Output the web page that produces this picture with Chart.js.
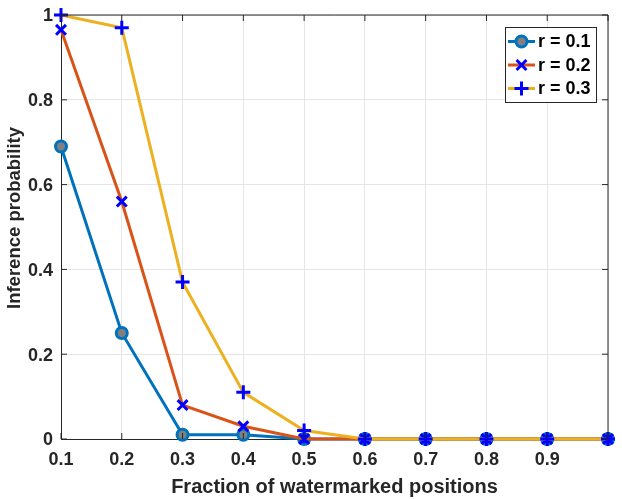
<!DOCTYPE html>
<html>
<head>
<meta charset="utf-8">
<script src="https://cdn.jsdelivr.net/npm/chart.js@4"></script>
<style>
  html, body { margin: 0; padding: 0; background: #fff; }
  #wrap { width: 622px; height: 499px; }
</style>
</head>
<body>
<div id="wrap"><canvas id="chart" width="622" height="499"></canvas></div>
<script>
// data
const xValues = [0.1, 0.2, 0.3, 0.4, 0.5, 0.6, 0.7, 0.8, 0.9, 1.0];
const probR01 = [0.69, 0.25, 0.01, 0.01, 0, 0, 0, 0, 0, 0];
const probR02 = [0.965, 0.56, 0.08, 0.03, 0, 0, 0, 0, 0, 0];
const probR03 = [1.0, 0.97, 0.37, 0.11, 0.02, 0, 0, 0, 0, 0];
const seriesNames = ['r = 0.1', 'r = 0.2', 'r = 0.3'];
const xTickLabels = ['0.1', '0.2', '0.3', '0.4', '0.5', '0.6', '0.7', '0.8', '0.9', ''];
const yTickValues = [0, 0.2, 0.4, 0.6, 0.8, 1];
const yTickLabels = ['0', '0.2', '0.4', '0.6', '0.8', '1'];
const xTitle = 'Fraction of watermarked positions';
const yTitle = 'Inference probability';

const FONT = "'Liberation Sans', Arial, Helvetica, sans-serif";
const AXIS = '#262626';

function toPoints(ys) {
    return xValues.map((x, i) => ({ x: x, y: ys[i] }));
}

// box + inward tick marks, like matlab axes; y label drawn here too
const boxTicks = {
    id: 'boxTicks',
    afterDatasetsDraw(chart) {
        const { ctx, chartArea: a, scales } = chart;
        ctx.save();
        ctx.strokeStyle = AXIS;
        ctx.lineWidth = 1;
        ctx.beginPath();
        ctx.moveTo(a.left, a.top);
        ctx.lineTo(a.right, a.top);
        ctx.lineTo(a.right, a.bottom);
        const len = 6;
        xValues.forEach(v => {
            const px = scales.x.getPixelForValue(v);
            ctx.moveTo(px, a.bottom);
            ctx.lineTo(px, a.bottom - len);
            ctx.moveTo(px, a.top);
            ctx.lineTo(px, a.top + len);
        });
        yTickValues.forEach(v => {
            const py = scales.y.getPixelForValue(v);
            ctx.moveTo(a.left, py);
            ctx.lineTo(a.left + len, py);
            ctx.moveTo(a.right, py);
            ctx.lineTo(a.right - len, py);
        });
        ctx.stroke();

        // y axis title (sits a bit above the axis centre in the original)
        ctx.translate(14.5, (a.top + a.bottom) / 2 - 9);
        ctx.rotate(-Math.PI / 2);
        ctx.fillStyle = AXIS;
        ctx.font = 'bold 18.5px ' + FONT;
        ctx.textAlign = 'center';
        ctx.textBaseline = 'middle';
        ctx.fillText(yTitle, 0, 0);
        ctx.restore();
    }
};

function drawMarker(ctx, style, x, y, r, fill, stroke) {
    ctx.beginPath();
    if (style === 'circle') {
        ctx.arc(x, y, r, 0, Math.PI * 2);
        ctx.fillStyle = fill;
        ctx.fill();
    } else if (style === 'cross') {
        ctx.moveTo(x - r, y);
        ctx.lineTo(x + r, y);
        ctx.moveTo(x, y - r);
        ctx.lineTo(x, y + r);
    } else {
        const d = r * Math.SQRT1_2;
        ctx.moveTo(x - d, y - d);
        ctx.lineTo(x + d, y + d);
        ctx.moveTo(x - d, y + d);
        ctx.lineTo(x + d, y - d);
    }
    ctx.strokeStyle = stroke;
    ctx.lineWidth = 3;
    ctx.stroke();
}

// legend box with line + marker samples
const boxLegend = {
    id: 'boxLegend',
    afterDraw(chart) {
        const { ctx, chartArea: a } = chart;
        const w = 91, h = 75;
        const x0 = a.right - 12 - w;
        const y0 = a.top + 12;
        ctx.save();
        ctx.fillStyle = '#fff';
        ctx.fillRect(x0, y0, w, h);
        ctx.strokeStyle = AXIS;
        ctx.lineWidth = 1;
        ctx.strokeRect(x0 + 0.5, y0 + 0.5, w, h);
        const rows = [14.5, 38, 61.5];
        chart.data.datasets.forEach((ds, i) => {
            const cy = y0 + rows[i];
            ctx.beginPath();
            ctx.moveTo(x0 + 3, cy);
            ctx.lineTo(x0 + 30, cy);
            ctx.strokeStyle = ds.borderColor;
            ctx.lineWidth = 3;
            ctx.stroke();
            const fill = ds.pointStyle === 'circle' ? '#808080' : ds.pointBorderColor;
            drawMarker(ctx, ds.pointStyle, x0 + 16.5, cy, ds.pointRadius, fill, ds.pointBorderColor);
            ctx.fillStyle = '#000';
            ctx.font = 'bold 18px ' + FONT;
            ctx.textBaseline = 'middle';
            ctx.fillText(ds.label, x0 + 33, cy + 1);
        });
        ctx.restore();
    }
};

const ctx = document.getElementById('chart').getContext('2d');
new Chart(ctx, {
    type: 'line',
    data: {
        datasets: [{
            label: seriesNames[0],
            data: toPoints(probR01),
            borderColor: '#0072BD',
            borderWidth: 3,
            pointStyle: 'circle',
            pointRadius: 5.5,
            pointBorderWidth: 3,
            pointBorderColor: '#0072BD',
            pointBackgroundColor: c => (c.raw && c.raw.y === 0 ? '#0000FF' : '#808080'),
            order: 3
        }, {
            label: seriesNames[1],
            data: toPoints(probR02),
            borderColor: '#D95319',
            borderWidth: 3,
            pointStyle: 'crossRot',
            pointRadius: 7,
            pointBorderWidth: 3,
            pointBorderColor: '#0000FF',
            order: 2
        }, {
            label: seriesNames[2],
            data: toPoints(probR03),
            borderColor: '#EDB120',
            borderWidth: 3,
            pointStyle: 'cross',
            pointRadius: 7,
            pointBorderWidth: 3,
            pointBorderColor: '#0000FF',
            order: 1
        }]
    },
    options: {
        responsive: false,
        animation: false,
        layout: { padding: { left: 0, right: 14, top: 15, bottom: 0 } },
        elements: { line: { tension: 0 } },
        datasets: { line: { clip: false } },
        plugins: {
            legend: { display: false },
            tooltip: { enabled: false }
        },
        scales: {
            x: {
                type: 'linear',
                min: 0.1,
                max: 1.0,
                afterBuildTicks: s => { s.ticks = xValues.map(v => ({ value: v })); },
                afterFit: s => { s.height = 60; s.paddingLeft = 0; s.paddingRight = 0; },
                grid: { color: '#e6e6e6', drawTicks: false },
                border: { color: AXIS },
                ticks: {
                    padding: 10,
                    maxRotation: 0,
                    autoSkip: false,
                    color: AXIS,
                    font: { family: FONT, size: 18, weight: 'bold' },
                    callback: (v, i) => xTickLabels[i]
                },
                title: {
                    display: true,
                    text: xTitle,
                    color: AXIS,
                    padding: { top: 4, bottom: 0 },
                    font: { family: FONT, size: 20, weight: 'bold' }
                }
            },
            y: {
                min: 0,
                max: 1,
                afterBuildTicks: s => { s.ticks = yTickValues.map(v => ({ value: v })); },
                afterFit: s => { s.width = 61; s.paddingTop = 0; s.paddingBottom = 0; },
                grid: { color: '#e6e6e6', drawTicks: false },
                border: { color: AXIS },
                ticks: {
                    padding: 8,
                    labelOffset: 1.5,
                    color: AXIS,
                    font: { family: FONT, size: 18, weight: 'bold' },
                    callback: (v, i) => yTickLabels[i]
                },
                title: { display: false }
            }
        }
    },
    plugins: [boxTicks, boxLegend]
});
</script>
</body>
</html>
